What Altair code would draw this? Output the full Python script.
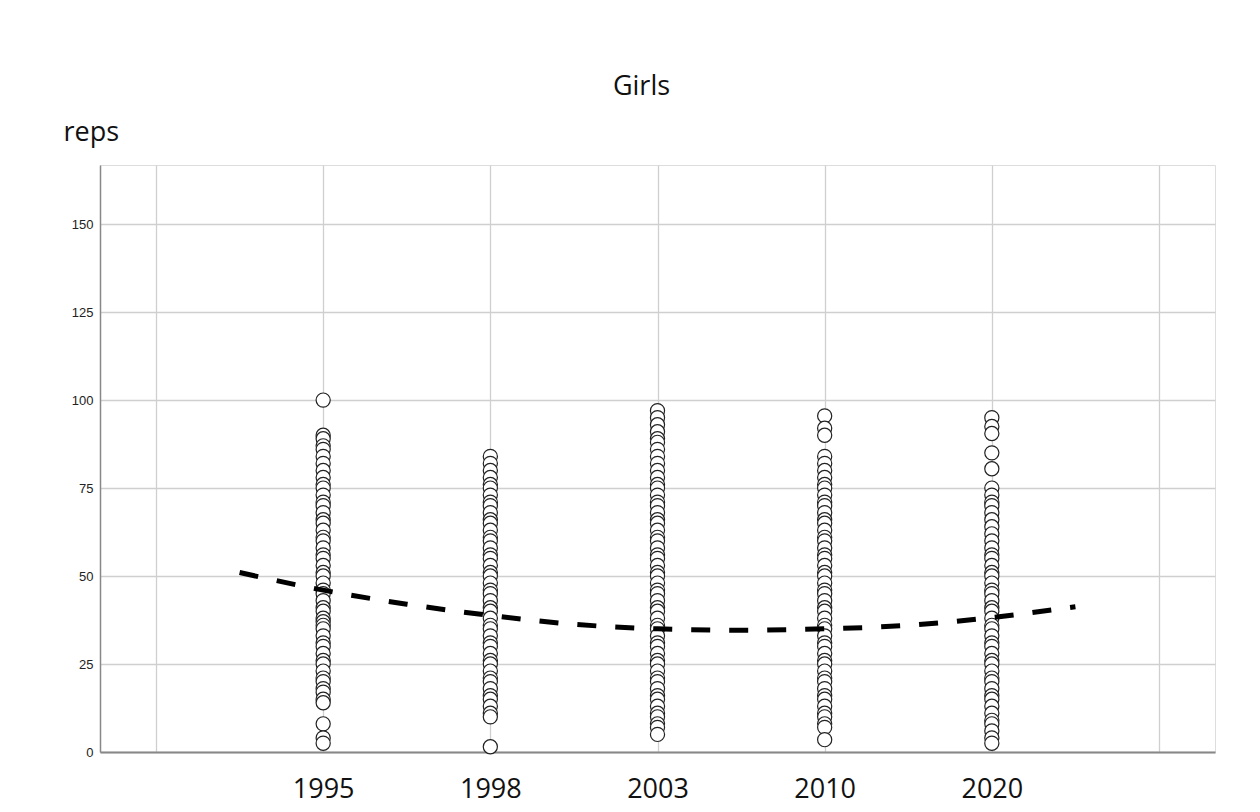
import altair as alt
import pandas as pd

# ---- data ----
years = ["1995", "1998", "2003", "2010", "2020"]
year_pos = [2, 3, 4, 5, 6]

reps_1995 = [100, 90, 89, 87, 86, 84, 82, 80, 78, 76, 75, 73, 71, 70, 68, 66, 65, 63, 61, 60,
             58, 56, 55, 53, 51, 50, 48, 46, 45, 43, 41, 40, 38, 37, 36, 35, 33, 31, 30, 28,
             26, 25, 23, 21, 20, 18, 17, 15, 14, 8, 4, 2.5]
reps_1998 = [84, 82, 80, 78, 76, 75, 73, 71, 70, 68, 66, 65, 63, 61, 60, 58, 56, 55, 53, 51,
             50, 48, 46, 45, 43, 41, 40, 38, 36, 35, 33, 31, 30, 28, 26, 25, 23, 21, 20, 18,
             16, 15, 13, 11, 10, 1.5]
reps_2003 = [97, 95, 93, 91, 89, 88, 86, 84, 82, 80, 78, 76, 75, 73, 71, 70, 68, 66, 65, 63,
             61, 60, 58, 56, 55, 53, 51, 50, 48, 46, 45, 43, 41, 40, 38, 36, 35, 33, 31, 30,
             28, 26, 25, 23, 21, 20, 18, 16, 15, 13, 11, 10, 8, 7, 5]
reps_2010 = [95.5, 92, 90, 84, 82, 80, 78, 76, 75, 73, 71, 70, 68, 66, 65, 63, 61, 60, 58, 56,
             55, 53, 51, 50, 48, 46, 45, 43, 41, 40, 38, 36, 35, 33, 31, 30, 28, 26, 25, 23,
             21, 20, 18, 16, 15, 13, 11, 10, 8, 7, 3.5]
reps_2020 = [95, 92.5, 90.5, 85, 80.5, 75, 73, 71, 70, 68, 66, 64, 62, 60, 58, 56, 55, 53, 51, 50,
             48, 46, 45, 43, 41, 40, 38, 36, 35, 33, 31, 30, 28, 26, 25, 23, 21, 20, 18, 16,
             15, 13, 11, 9, 8, 6, 4, 2.5]

# fitted (dashed) curve
fit_pos = [1.5, 2.0, 2.5, 3.0, 3.5, 4.0, 4.5, 5.0, 5.5, 6.0, 6.5]
fit_val = [51.0, 46.0, 42.0, 38.8, 36.3, 35.0, 34.6, 35.0, 36.0, 38.2, 41.3]

y_ticks = [0, 25, 50, 75, 100, 125, 150]
x_ticks = [1, 2, 3, 4, 5, 6, 7]

# ---- tables ----
all_reps = [reps_1995, reps_1998, reps_2003, reps_2010, reps_2020]
rows = []
for yr, p, vals in zip(years, year_pos, all_reps):
    for v in vals:
        rows.append({"year": yr, "pos": p, "reps": v})
pts = pd.DataFrame(rows)
fit = pd.DataFrame({"pos": fit_pos, "reps": fit_val})

label_map = "{" + ",".join(f"'{p}':'{y}'" for p, y in zip(year_pos, years)) + "}"

x_scale = alt.Scale(domain=[0.665, 7.335], nice=False, zero=False)
y_scale = alt.Scale(domain=[0, 166.8], nice=False)

x_axis = alt.Axis(
    values=x_ticks, title=None, ticks=False, grid=True,
    labelExpr=f"{label_map}[datum.value] || ''",
    labelFont="Open Sans", labelFontSize=27, labelColor="#111",
    labelPadding=24, domainColor="#888", domainWidth=2,
    gridColor="#cfcfcf", gridWidth=1.3,
)
y_axis = alt.Axis(
    values=y_ticks, ticks=False, grid=True, title="reps",
    titleAngle=0, titleAlign="left", titleBaseline="alphabetic",
    titleX=-37, titleY=-25, titleFont="Open Sans", titleFontSize=27,
    titleFontWeight="normal", titleColor="#111",
    labelFont="Liberation Sans", labelFontSize=13, labelColor="#222",
    labelPadding=7, domainColor="#888", domainWidth=1.5,
    gridColor="#cfcfcf", gridWidth=1.3,
)

points = alt.Chart(pts).mark_point(
    shape="circle", filled=False, fill="white", fillOpacity=1,
    stroke="#222", strokeWidth=1.2, size=200, opacity=1,
).encode(
    x=alt.X("pos:Q", scale=x_scale, axis=x_axis),
    y=alt.Y("reps:Q", scale=y_scale, axis=y_axis),
)

line = alt.Chart(fit).mark_line(
    color="black", strokeWidth=5, strokeDash=[19, 19], interpolate="monotone",
).encode(
    x=alt.X("pos:Q", scale=x_scale),
    y=alt.Y("reps:Q", scale=y_scale),
)

chart = alt.layer(points, line).properties(
    width=1115, height=587,
    title=alt.TitleParams(
        "Girls", font="Open Sans", fontSize=27, fontWeight="normal",
        color="#111", anchor="middle", dx=-16, offset=17,
    ),
    autosize=alt.AutoSizeParams(type="none"),
    padding={"left": 92, "top": 157, "right": 37, "bottom": 56},
).configure_view(stroke=None).configure(background="white")

chart.save("out.html", embed_options={"renderer": "svg", "actions": False})
